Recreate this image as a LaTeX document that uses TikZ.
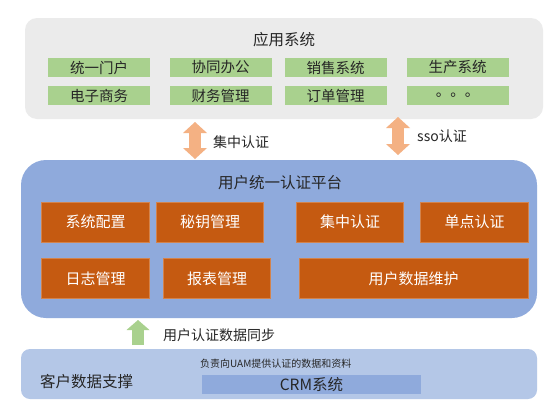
\documentclass[tikz,border=0pt]{standalone}
\usepackage{fontspec}
\setmainfont{Noto Sans CJK SC}
\usetikzlibrary{arrows.meta}
\definecolor{panelgray}{HTML}{EBEBEB}
\definecolor{platblue}{HTML}{8FAADC}
\definecolor{datablue}{HTML}{B4C7E7}
\definecolor{modorange}{HTML}{C55A11}
\definecolor{appgreen}{HTML}{A9D18E}
\definecolor{peach}{HTML}{F4B183}
\definecolor{txtdark}{HTML}{262626}

\begin{document}
\begin{tikzpicture}[x=1pt, y=-1pt,
    panel/.style={rectangle, inner sep=0pt},
    app/.style={rectangle, fill=appgreen, minimum width=102pt, minimum height=19pt, inner sep=0pt, font=\fontsize{14.5}{16}\selectfont, text=txtdark},
    module/.style={rectangle, fill=modorange, draw=modorange!75!white, line width=0.6pt, minimum width=107.5pt, minimum height=40pt, inner sep=0pt, font=\fontsize{15}{17}\selectfont, text=white},
    lbl/.style={anchor=west, inner sep=0pt, font=\fontsize{14}{16}\selectfont, text=txtdark},
    flow/.style={line width=12.5pt, peach, {Triangle[length=11pt,width=24pt,line width=0pt]}-{Triangle[length=11pt,width=24pt,line width=0pt]}},
    sync/.style={line width=11.5pt, appgreen, -{Triangle[length=10pt,width=23pt,line width=0pt]}}
]
    \fill[white] (0,0) rectangle (554,407);
    \useasboundingbox (0,0) rectangle (554,407);

    % Application systems
    \node[panel, fill=panelgray, minimum width=518pt, minimum height=101pt, rounded corners=12pt] (apps) at (284,68.5) {};
    \node[font=\fontsize{15.5}{17}\selectfont, text=txtdark] (appstitle) at (284,40) {应用系统};
    \node[app] (portal) at (99,67.5) {统一门户};
    \node[app] (office) at (220.5,67.5) {协同办公};
    \node[app] (sales) at (335.5,67.5) {销售系统};
    \node[app] (prod) at (457.5,67.5) {生产系统};
    \node[app] (ebiz) at (99,95.5) {电子商务};
    \node[app] (finance) at (220.5,95.5) {财务管理};
    \node[app] (orders) at (335.5,95.5) {订单管理};
    \node[app] (more) at (457.5,95.5) {。。。};

    % Platform
    \node[panel, fill=platblue, minimum width=516pt, minimum height=158pt, rounded corners=25pt] (uam) at (279,239) {};
    \node[font=\fontsize{15.5}{17}\selectfont, text=txtdark] (uamtitle) at (280,183) {用户统一认证平台};
    \node[module] (config) at (95.5,222) {系统配置};
    \node[module] (keys) at (210,222) {秘钥管理};
    \node[module] (central) at (350,222) {集中认证};
    \node[module] (sso) at (474.5,222) {单点认证};
    \node[module] (logs) at (95.5,278.5) {日志管理};
    \node[module] (reports) at (217,278.5) {报表管理};
    \node[module, minimum width=229pt] (userdata) at (413.5,278.5) {用户数据维护};

    % Customer data
    \node[panel, fill=datablue, minimum width=516pt, minimum height=50pt, rounded corners=9pt] (cust) at (279,374) {};
    \node[lbl, font=\fontsize{15.5}{17}\selectfont] (custtitle) at (40,382) {客户数据支撑};
    \node[lbl, font=\fontsize{10}{11}\selectfont] (custnote) at (200,364) {负责向UAM提供认证的数据和资料};
    \node[panel, fill=platblue, minimum width=219pt, minimum height=19pt, font=\fontsize{15.5}{17}\selectfont, text=txtdark] (crm) at (311.5,384.5) {CRM系统};

    % Connections
    \coordinate (c1top) at (195,122);
    \coordinate (c1bot) at (195,159);
    \coordinate (c2top) at (398,117);
    \coordinate (c2bot) at (398,155);
    \coordinate (c3top) at (138,320);
    \coordinate (c3bot) at (138,345);
    \draw[flow] (c1top) -- (c1bot);
    \draw[flow] (c2top) -- (c2bot);
    \draw[sync] (c3bot) -- (c3top);
    \node[lbl] (lcentral) at (213,142) {集中认证};
    \node[lbl] (lsso) at (417,136) {sso认证};
    \node[lbl] (lsync) at (163,335) {用户认证数据同步};
\end{tikzpicture}
\end{document}
